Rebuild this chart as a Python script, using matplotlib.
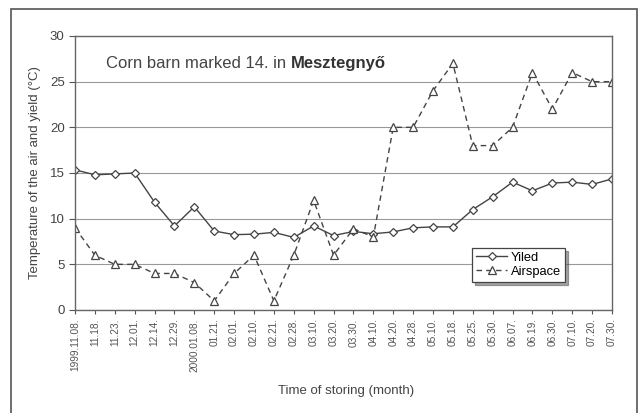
import matplotlib.pyplot as plt
from matplotlib.patches import Rectangle

plt.rcParams["font.family"] = ["Liberation Sans", "DejaVu Sans"]

dates = ["1999.11.08.", "11.18.", "11.23.", "12.01.", "12.14.", "12.29.",
         "2000.01.08.", "01.21.", "02.01.", "02.10.", "02.21.", "02.28.",
         "03.10.", "03.20.", "03.30.", "04.10.", "04.20.", "04.28.",
         "05.10.", "05.18.", "05.25.", "05.30.", "06.07.", "06.19.",
         "06.30.", "07.10.", "07.20.", "07.30."]
yiled = [15.35, 14.8, 14.9, 15.0, 11.8, 9.2, 11.3, 8.65, 8.25, 8.3, 8.5, 7.95,
         9.2, 8.15, 8.6, 8.35, 8.55, 9.0, 9.1, 9.1, 11.0, 12.4, 14.0, 13.05,
         13.9, 14.0, 13.75, 14.35]
airspace = [9, 6, 5, 5, 4, 4, 3, 1, 4, 6, 1, 6, 12, 6, 8.9, 8,
            20, 20, 24, 27, 18, 18, 20, 26, 22, 26, 25, 25]

fig = plt.figure(figsize=(6.4, 4.13), dpi=100)
fig.patch.set_facecolor("white")

# outer frame of the figure (bottom edge runs off the picture)
fig.patches.append(Rectangle((11 / 640, -0.05), (637 - 11) / 640, 1.05 - 9 / 413,
                             transform=fig.transFigure, fill=False,
                             edgecolor="#555555", linewidth=1.2))

ax = fig.add_axes([75 / 640, 1 - 310 / 413, (612 - 75) / 640, (310 - 36) / 413])
x = list(range(len(dates)))

ax.plot(x, yiled, color="#444444", linewidth=1.0, marker="D", markersize=4.5,
        markerfacecolor="white", markeredgecolor="#444444", markeredgewidth=0.9,
        label="Yiled")
ax.plot(x, airspace, color="#444444", linewidth=1.0, linestyle=(0, (4, 3)),
        marker="^", markersize=5.5, markerfacecolor="white",
        markeredgecolor="#444444", markeredgewidth=0.9, label="Airspace")

ax.set_xlim(0, len(dates) - 1)
ax.set_ylim(0, 30)
ax.set_yticks(range(0, 31, 5))
ax.yaxis.grid(True, color="#999999", linewidth=0.8)
ax.set_axisbelow(True)
ax.set_xticks(x)
ax.set_xticklabels(dates, rotation=90, fontsize=7.3, color="#555555")
ax.tick_params(axis="y", labelsize=9.5, labelcolor="#444444", direction="out",
               length=4, color="#555555")
ax.tick_params(axis="x", direction="out", length=3, color="#555555", pad=3)
for s in ax.spines.values():
    s.set_color("#666666")
    s.set_linewidth(1.0)

ax.set_ylabel("Temperature of the air and yield (°C)", fontsize=9.5,
              color="#444444", labelpad=6)
fig.text(346 / 640, 1 - 391 / 413, "Time of storing (month)", ha="center",
         va="center", fontsize=9.5, color="#444444")

# title inside the plot, place name in bold right after the plain part
t1 = ax.text(0.058, 0.9, "Corn barn marked 14. in ", transform=ax.transAxes,
             fontsize=12, color="#444444", va="center")
ax.annotate("Mesztegnyő", xy=(1, 0.5), xycoords=t1, va="center", ha="left",
            fontsize=12, fontweight="bold", color="#333333")

leg = ax.legend(loc="upper left", bbox_to_anchor=(0.74, 0.226),
                borderaxespad=0, fontsize=9.3, frameon=True, fancybox=False,
                shadow=True, borderpad=0.3, handlelength=2.4,
                handletextpad=0.3, labelspacing=0.15)
leg.get_frame().set_edgecolor("#444444")
leg.get_frame().set_linewidth(0.9)

fig.savefig("out.png", dpi=100)
